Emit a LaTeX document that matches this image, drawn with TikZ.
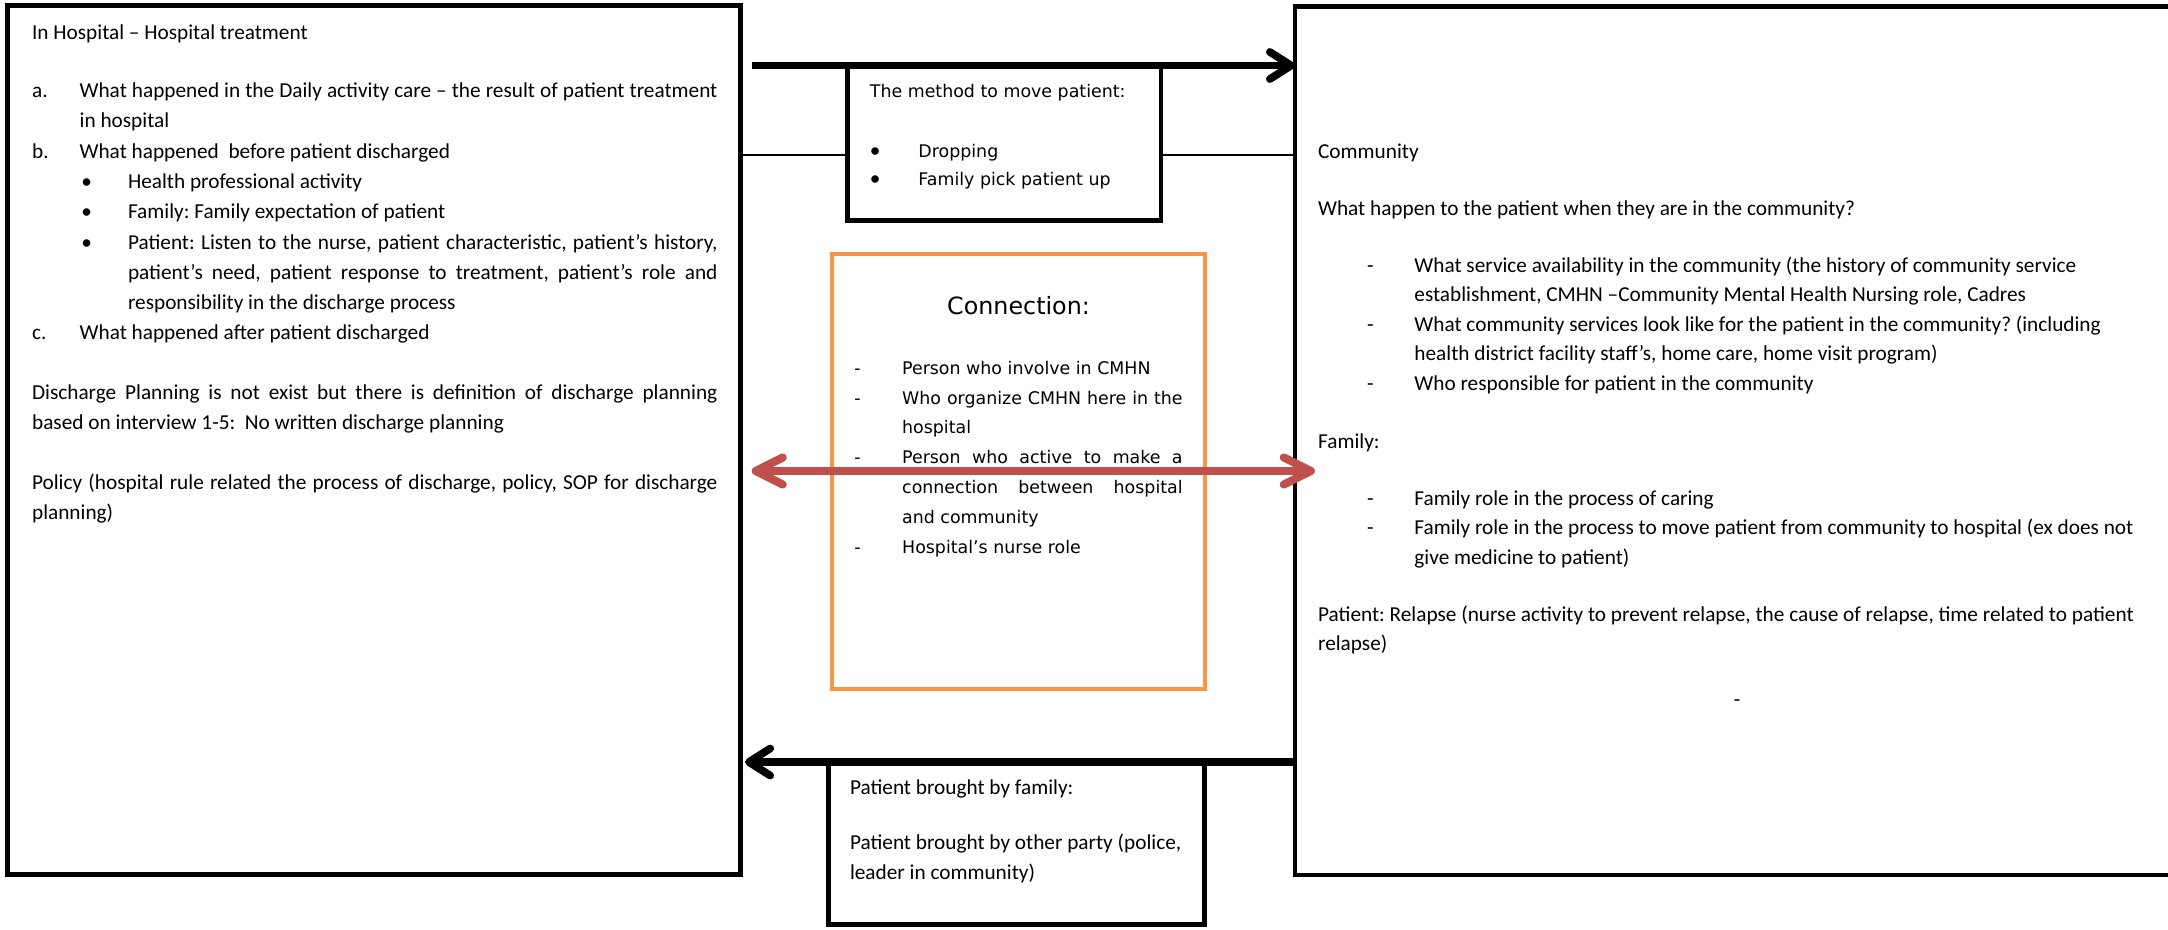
\documentclass[tikz,border=0pt]{standalone}
\usepackage{fontspec}
\setmainfont{Carlito}
\newfontfamily\boxfont{DejaVu Sans}
\usetikzlibrary{arrows.meta}
\usetikzlibrary{fit}
\frenchspacing

\definecolor{linkred}{HTML}{C0504D}
\definecolor{linkorange}{HTML}{F79646}

% font's own word spaces (align=left makes them rigid)
\newcommand{\wsp}{\spaceskip=0pt\xspaceskip=0pt\relax}
% justified line of a given width
\newcommand{\jline}[2]{\makebox[#1][s]{\wsp #2}}
\newcommand{\lab}[1]{\makebox[24.6pt][l]{#1}}
\newcommand{\bul}{\makebox[49.6pt][l]{\hspace{25.5pt}\textbullet}}
\newcommand{\dsh}{\makebox[49.8pt][l]{\hspace{25.3pt}-}}
\newcommand{\mbul}{\makebox[25.1pt][l]{\rmfamily\fontsize{11}{14.8}\selectfont\textbullet}}
\newcommand{\cdsh}{\makebox[24.7pt][l]{-}}
\newcommand{\ind}[1]{\hspace*{#1}}

\begin{document}
\begin{tikzpicture}[x = 0.517pt, y = -0.517pt,
  panel/.style = {draw, line width = 2.5pt, inner sep = 0pt, outer sep = 0pt},
  txt/.style = {anchor = north west, inner sep = 0pt, align = left},
  heavy/.style = {line width = 4pt, -{Straight Barb[length = 11pt, width = 14pt, round]}},
  tie/.style = {line width = 0.9pt},
  link/.style = {linkred, line width = 4.2pt,
    {Straight Barb[length = 14pt, width = 14pt, round]}-{Straight Barb[length = 14pt, width = 14pt, round]}}]
  \useasboundingbox (0, 0) rectangle (2168, 929);

  % boxes
  \node[panel, fit = {(7.5, 5.5) (740.8, 874.7)}] (hosp) {};
  \node[panel, fit = {(1295, 6.8) (2185, 875)}] (comm) {};
  \node[panel, fit = {(847.5, 67) (1161, 220.5)}] (meth) {};
  \node[panel, linkorange, line width = 2.3pt, fit = {(832, 254) (1205, 689)}] (conn) {};
  \node[panel, fit = {(828.5, 764) (1204.8, 924.5)}] (back) {};

  % hospital side
  \node[txt, text width = 360pt, font = {\fontsize{11}{15.66}\selectfont}] (hospnote) at (31.7, 18.1) {%
    \noindent\wsp\strut In Hospital – Hospital treatment\\[14.3pt]
    \lab{a.}\jline{329.7pt}{What happened in the Daily activity care – the result of patient treatment}\\
    \ind{24.6pt}in hospital\\
    \lab{b.}What happened\ \ before patient discharged\\
    \bul Health professional activity\\
    \bul Family: Family expectation of patient\\
    \bul\jline{304.7pt}{Patient: Listen to the nurse, patient characteristic, patient’s history,}\\
    \ind{49.6pt}\jline{304.7pt}{patient’s need, patient response to treatment, patient’s role and}\\
    \ind{49.6pt}responsibility in the discharge process\\
    \lab{c.}What happened after patient discharged\\[15pt]
    \jline{354.3pt}{Discharge Planning is not exist but there is definition of discharge planning}\\
    based on interview 1-5:\ \ No written discharge planning\\[15.4pt]
    \jline{354.3pt}{Policy (hospital rule related the process of discharge, policy, SOP for discharge}\\
    planning)};

  % community side
  \node[txt, text width = 440pt, font = {\fontsize{11}{15.3}\selectfont}] (commnote) at (1317.7, 137.6) {%
    \noindent\wsp\strut Community\\[14pt]
    What happen to the patient when they are in the community?\\[14pt]
    \dsh What service availability in the community (the history of community service\\
    \ind{49.8pt}establishment, CMHN –Community Mental Health Nursing role, Cadres\\
    \dsh What community services look like for the patient in the community? (including\\
    \ind{49.8pt}health district facility staff’s, home care, home visit program)\\
    \dsh Who responsible for patient in the community\\[14.8pt]
    Family:\\[14pt]
    \dsh Family role in the process of caring\\
    \dsh Family role in the process to move patient from community to hospital (ex does not\\
    \ind{49.8pt}give medicine to patient)\\[14pt]
    Patient: Relapse (nurse activity to prevent relapse, the cause of relapse, time related to patient\\
    relapse)\\[13.3pt]
    \ind{215pt}-};

  % middle boxes
  \node[txt, text width = 160pt, font = {\boxfont\fontsize{9}{14.8}\selectfont}] (methnote) at (869.5, 77.2) {%
    \noindent\wsp\strut The method to move patient:\\[16pt]
    \mbul Dropping\\
    \mbul Family pick patient up};
  \node[anchor = base, inner sep = 0pt, font = {\boxfont\fontsize{12.3}{14}\selectfont}] (connhead) at (1018.5, 314) {Connection:};
  \node[txt, text width = 175pt, font = {\boxfont\fontsize{9}{15.4}\selectfont}] (connnote) at (854, 353.1) {%
    \noindent\wsp\strut\cdsh Person who involve in CMHN\\
    \cdsh\jline{145pt}{Who organize CMHN here in the}\\
    \ind{24.7pt}hospital\\
    \cdsh\jline{145pt}{Person who active to make a}\\
    \ind{24.7pt}\jline{145pt}{connection between hospital}\\
    \ind{24.7pt}and community\\
    \cdsh Hospital’s nurse role};
  \node[txt, text width = 190pt, font = {\fontsize{11}{15.5}\selectfont}] (backnote) at (849.6, 773) {%
    \noindent\wsp\strut Patient brought by family:\\[13.1pt]
    Patient brought by other party (police,\\
    leader in community)};

  % connectors
  \coordinate (toplvl) at (0, 65.5);
  \coordinate (midlvl) at (0, 155);
  \coordinate (redlvl) at (0, 471);
  \coordinate (lowlvl) at (0, 762);

  \draw[tie] (hosp.east |- midlvl) -- (meth.west |- midlvl);
  \draw[tie] (meth.east |- midlvl) -- (comm.west |- midlvl);
  \draw[heavy] ([xshift = 5.6pt]hosp.east |- toplvl) -- (comm.west |- toplvl);
  \draw[heavy] (comm.west |- lowlvl) -- ([xshift = 2.2pt]hosp.east |- lowlvl);
  \draw[link] ([xshift = 5.6pt]hosp.east |- redlvl) -- ([xshift = 10.3pt]comm.west |- redlvl);
\end{tikzpicture}
\end{document}
